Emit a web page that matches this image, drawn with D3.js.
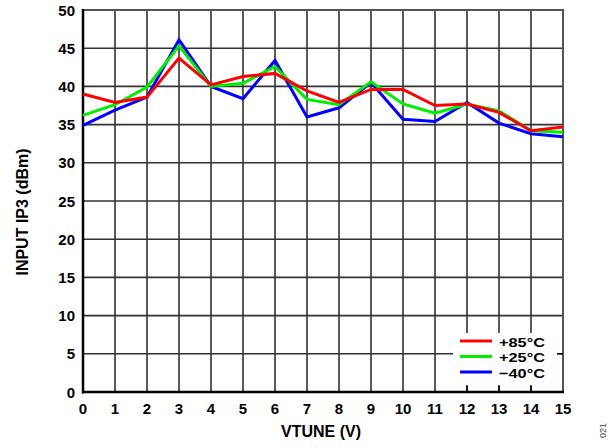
<!DOCTYPE html>
<html><head><meta charset="utf-8">
<script src="https://cdn.jsdelivr.net/npm/d3@7/dist/d3.min.js"></script>
<style>body{margin:0;background:#fff}svg{display:block}text{font-family:"Liberation Sans",Arial,sans-serif;font-weight:bold}</style>
</head><body><svg id="c" width="610" height="448"></svg>
<script>
const vtune = [0,1,2,3,4,5,6,7,8,9,10,11,12,13,14,15];
const p85 = [39.0,37.9,38.6,43.7,40.2,41.3,41.7,39.4,37.9,39.6,39.6,37.5,37.7,36.6,34.2,34.7];
const p25 = [36.2,37.6,39.9,45.3,40.0,40.4,42.6,38.3,37.6,40.6,37.7,36.5,37.7,36.8,34.2,34.0];
const m40 = [34.9,36.9,38.6,46.1,40.0,38.4,43.4,36.0,37.2,40.5,35.7,35.4,37.9,35.2,33.8,33.4];
const yTicks = [0,5,10,15,20,25,30,35,40,45,50];
const seriesNames = ["+85°C","+25°C","\u221240°C"];
const seriesColors = ["#ff0000","#00ee00","#0000ff"];

const svg = d3.select("#c");
const L=83,R=563,T=10,B=392;
const x = d3.scaleLinear().domain([0,15]).range([L,R]);
const y = d3.scaleLinear().domain([0,50]).range([B,T]);

// grid
svg.append("g").selectAll("line").data(vtune).join("line")
  .attr("x1",d=>x(d)).attr("x2",d=>x(d)).attr("y1",T).attr("y2",B)
  .attr("stroke","#333").attr("stroke-width",1.6);
svg.append("g").selectAll("line").data(yTicks).join("line")
  .attr("y1",d=>y(d)).attr("y2",d=>y(d)).attr("x1",L).attr("x2",R)
  .attr("stroke","#333").attr("stroke-width",1.6);
// frame
svg.append("rect").attr("x",L).attr("y",T).attr("width",R-L).attr("height",B-T)
  .attr("fill","none").attr("stroke","#555").attr("stroke-width",2);
svg.append("line").attr("x1",L).attr("x2",L).attr("y1",T-1).attr("y2",B+1.5).attr("stroke","#000").attr("stroke-width",2.5);
svg.append("line").attr("x1",L-1).attr("x2",R+1).attr("y1",B).attr("y2",B).attr("stroke","#000").attr("stroke-width",2.5);

// lines (blue bottom, red top)
const line = d3.line().x((d,i)=>x(vtune[i])).y(d=>y(d));
const allSeries = [p85,p25,m40];
[2,1,0].forEach(idx=>{
  svg.append("path").datum(allSeries[idx]).attr("d",line).attr("fill","none")
    .attr("stroke",seriesColors[idx]).attr("stroke-width",3).attr("stroke-linejoin","miter");
});

// legend
const lg = svg.append("g");
lg.append("rect").attr("x",453).attr("y",333).attr("width",106).attr("height",52).attr("fill","#fff");
lg.selectAll("line.t").data([12,13,14]).join("line").attr("class","t")
  .attr("x1",d=>x(d)).attr("x2",d=>x(d)).attr("y1",B-6).attr("y2",B).attr("stroke","#000").attr("stroke-width",1.6);
lg.append("line").attr("x1",x(15)-6).attr("x2",R).attr("y1",y(5)).attr("y2",y(5)).attr("stroke","#000").attr("stroke-width",1.6);
seriesNames.forEach((n,i)=>{
  const yy = 341+i*15.5;
  lg.append("line").attr("x1",460).attr("x2",492).attr("y1",yy).attr("y2",yy)
    .attr("stroke",seriesColors[i]).attr("stroke-width",3);
  lg.append("text").attr("x",499).attr("y",yy+5.5).attr("font-size",13.5)
    .attr("textLength",46).attr("lengthAdjust","spacingAndGlyphs").attr("fill","#000").text(n);
});

// tick labels
svg.append("g").selectAll("text").data(vtune).join("text")
  .attr("x",d=>x(d)).attr("y",414).attr("text-anchor","middle").attr("font-size",15).text(d=>d);
svg.append("g").selectAll("text").data(yTicks).join("text")
  .attr("x",L-8).attr("y",d=>y(d)+5.5).attr("text-anchor","end").attr("font-size",15).text(d=>d);

// titles
svg.append("text").attr("x",321).attr("y",437).attr("text-anchor","middle").attr("font-size",16).text("VTUNE (V)");
svg.append("text").attr("transform","translate(28,212) rotate(-90)").attr("text-anchor","middle").attr("font-size",16).text("INPUT IP3 (dBm)");
svg.append("text").attr("transform","translate(606,438) rotate(-90)").attr("font-size",9)
  .style("font-weight","normal").attr("fill","#444").text("021");
</script></body></html>
